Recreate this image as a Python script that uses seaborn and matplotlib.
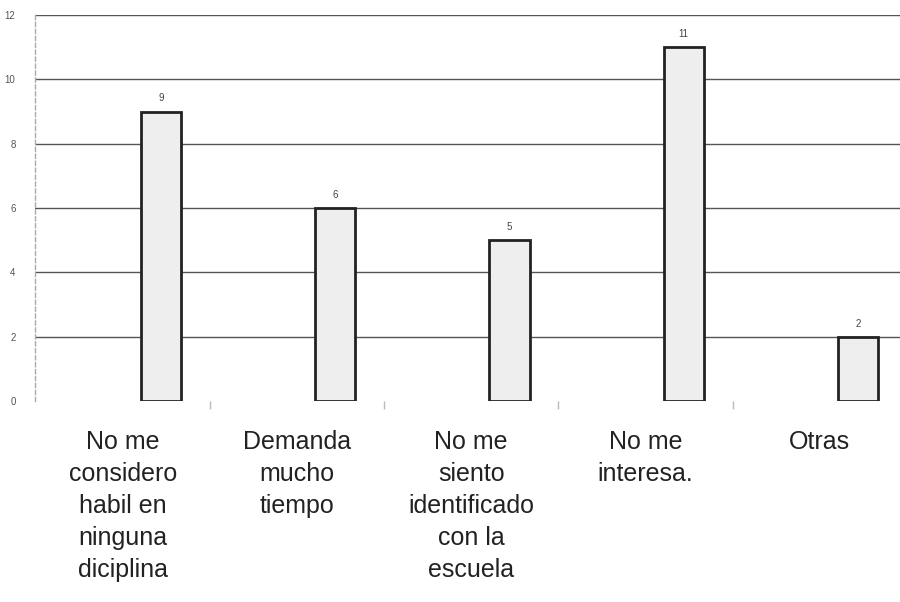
import matplotlib
matplotlib.use("Agg")
import matplotlib.pyplot as plt
import numpy as np
import pandas as pd
import seaborn as sns

categories = [
    "No me\nconsidero\nhabil en\nninguna\ndiciplina",
    "Demanda\nmucho\ntiempo",
    "No me\nsiento\nidentificado\ncon la\nescuela",
    "No me\ninteresa.",
    "Otras",
]
values = [9, 6, 5, 11, 2]

df = pd.DataFrame({"cat": categories, "n": values})

sns.set_style("white")
plt.rcParams["font.family"] = ["Liberation Sans", "DejaVu Sans"]

fig = plt.figure(figsize=(9, 6.02), dpi=100)
ax = fig.add_axes([35 / 900, 1 - 401 / 602, 1 - 35 / 900, (401 - 15) / 602])

sns.barplot(data=df, x="cat", y="n", color="#eeeeee", edgecolor="#222222",
            linewidth=2, width=0.23, saturation=1, ax=ax)

for i, v in enumerate(values):
    ax.text(i, v + 0.25, str(v), ha="center", va="bottom", fontsize=7, color="#444444")

ax.set_ylim(0, 12)
ax.set_xlim(-0.723, 4.241)
ax.set_yticks(range(0, 13, 2))
for y in range(2, 13, 2):
    ax.axhline(y, color="#555555", lw=1, zorder=0)

ax.set_xticks(np.arange(len(values)) - 0.22)
ax.set_xticklabels(categories, fontsize=18, color="#222222", linespacing=1.42, va="top")
ax.tick_params(axis="x", which="major", length=0, pad=21)
ax.set_xticks(np.arange(len(values) - 1) + 0.28, minor=True)
ax.tick_params(axis="x", which="minor", bottom=True, length=6, width=1,
               color="#bbbbbb", direction="out")
ax.tick_params(axis="y", length=0, labelsize=7, labelcolor="#555555", pad=14)

for s in ["top", "right", "bottom"]:
    ax.spines[s].set_visible(False)
ax.spines["left"].set_linestyle((0, (3, 2)))
ax.spines["left"].set_color("#aaaaaa")
ax.spines["left"].set_linewidth(1)

ax.set_xlabel("")
ax.set_ylabel("")

fig.savefig("out.png", dpi=100)
